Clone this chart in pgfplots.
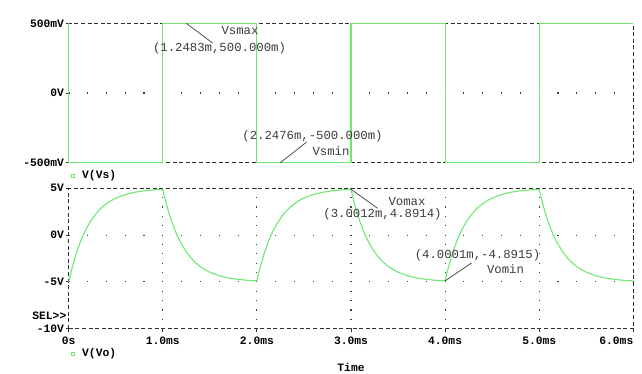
\documentclass[border=0pt]{standalone}
\usepackage{fontspec}
\setmainfont{Liberation Mono}
\usepackage{pgfplots}
\pgfplotsset{compat=1.18}
\definecolor{sig}{RGB}{112,232,112}
\definecolor{frm}{RGB}{45,45,45}
\definecolor{ann}{RGB}{60,60,60}
\newcommand{\tf}{\bfseries\fontsize{11.3}{12}\selectfont}
\newcommand{\af}{\fontsize{12.3}{13}\selectfont}
\begin{document}
\begin{tikzpicture}[x=1pt,y=1pt]
\path (0,0) rectangle (642,-373);
\pgfplotsset{
 psp/.style={
  scale only axis, width=564.6pt,
  xmin=0,xmax=6,
  axis line style={frm, line width=0.9pt, dash pattern=on 4pt off 2.6pt},
  tick style={frm, line width=0.9pt, solid},
  tick align=outside, major tick length=3pt,
  ticklabel style={font=\tf, text=black},
  yticklabel style={anchor=east, inner sep=0pt, xshift=-1.5pt},
  xticklabel style={anchor=north, inner sep=0pt, yshift=-5pt},
  ytick pos=left, xtick pos=bottom,
  clip=false,
 },
 hdots/.style={black!75, line width=1.1pt, dash pattern=on 1.1pt off 17.72pt, dash phase=0.55pt},
 vdots/.style={black!75, line width=1.1pt, dash pattern=on 1.1pt off 8.26pt, dash phase=0.55pt},
}
% ---------------- top panel ----------------
\begin{axis}[psp, at={(68.7pt,-23.3pt)}, anchor=north west, height=139.4pt,
  ymin=-0.5, ymax=0.5, ytick={-0.5,0,0.5}, yticklabels={-500mV,0V,500mV},
  xtick=\empty]
\addplot[hdots] coordinates {(0,0) (6,0)};
\addplot[sig, line width=1.1pt] coordinates {
 (0,0.5) (0,-0.5) (1,-0.5) (1,0.5) (2,0.5) (2,-0.5) (3,-0.5) (3,0.5)
 (4,0.5) (4,-0.5) (5,-0.5) (5,0.5) (6,0.5)};
\draw[ann, line width=0.7pt] (axis cs:1.2483,0.5) -- ++(26.5pt,-19.7pt);
\draw[ann, line width=0.7pt] (axis cs:2.2476,-0.5) -- ++(26.5pt,20.7pt);
\end{axis}
% ---------------- bottom panel ----------------
\begin{axis}[psp, at={(68.7pt,-188.3pt)}, anchor=north west, height=140.4pt,
  ymin=-10, ymax=5, ytick={-10,-5,0,5}, yticklabels={-10V,-5V,0V,5V},
  xtick={0,1,2,3,4,5,6},
  xticklabels={0s,1.0ms,2.0ms,3.0ms,4.0ms,5.0ms,\makebox[0pt][r]{6.0ms}}]
\addplot[hdots] coordinates {(0,0) (6,0)};
\addplot[hdots] coordinates {(0,-5) (6,-5)};
\addplot[vdots] coordinates {(1,5) (1,-10)};
\addplot[vdots] coordinates {(2,5) (2,-10)};
\addplot[vdots] coordinates {(3,5) (3,-10)};
\addplot[vdots] coordinates {(4,5) (4,-10)};
\addplot[vdots] coordinates {(5,5) (5,-10)};
\addplot[sig, line width=1.1pt] coordinates {
 (0,-5) (0.025,-3.94) (0.05,-2.99) (0.075,-2.13) (0.1,-1.38) (0.125,-0.70) (0.15,-0.09) (0.175,0.45)
 (0.2,0.94) (0.25,1.76) (0.3,2.41) (0.35,2.93) (0.4,3.35) (0.45,3.68) (0.5,3.95) (0.6,4.33)
 (0.7,4.57) (0.8,4.73) (0.9,4.83) (1.0,4.89)
 (1.025,3.84) (1.05,2.90) (1.075,2.05) (1.1,1.31) (1.125,0.63) (1.15,0.03) (1.175,-0.50)
 (1.2,-0.98) (1.25,-1.79) (1.3,-2.44) (1.35,-2.96) (1.4,-3.37) (1.45,-3.70) (1.5,-3.96) (1.6,-4.34)
 (1.7,-4.58) (1.8,-4.73) (1.9,-4.83) (2.0,-4.89)
 (2.025,-3.84) (2.05,-2.90) (2.075,-2.05) (2.1,-1.31) (2.125,-0.63) (2.15,-0.03) (2.175,0.50)
 (2.2,0.98) (2.25,1.79) (2.3,2.44) (2.35,2.96) (2.4,3.37) (2.45,3.70) (2.5,3.96) (2.6,4.34)
 (2.7,4.58) (2.8,4.73) (2.9,4.83) (3.0,4.89)
 (3.025,3.84) (3.05,2.90) (3.075,2.05) (3.1,1.31) (3.125,0.63) (3.15,0.03) (3.175,-0.50)
 (3.2,-0.98) (3.25,-1.79) (3.3,-2.44) (3.35,-2.96) (3.4,-3.37) (3.45,-3.70) (3.5,-3.96) (3.6,-4.34)
 (3.7,-4.58) (3.8,-4.73) (3.9,-4.83) (4.0,-4.89)
 (4.025,-3.84) (4.05,-2.90) (4.075,-2.05) (4.1,-1.31) (4.125,-0.63) (4.15,-0.03) (4.175,0.50)
 (4.2,0.98) (4.25,1.79) (4.3,2.44) (4.35,2.96) (4.4,3.37) (4.45,3.70) (4.5,3.96) (4.6,4.34)
 (4.7,4.58) (4.8,4.73) (4.9,4.83) (5.0,4.89)
 (5.025,3.84) (5.05,2.90) (5.075,2.05) (5.1,1.31) (5.125,0.63) (5.15,0.03) (5.175,-0.50)
 (5.2,-0.98) (5.25,-1.79) (5.3,-2.44) (5.35,-2.96) (5.4,-3.37) (5.45,-3.70) (5.5,-3.96) (5.6,-4.34)
 (5.7,-4.58) (5.8,-4.73) (5.9,-4.83) (6.0,-4.89)};
\draw[ann, line width=0.7pt] (axis cs:3.0012,4.8914) -- ++(26.5pt,-19pt);
\draw[ann, line width=0.7pt] (axis cs:4.0001,-4.8915) -- ++(26.5pt,18pt);
\end{axis}
% ---------------- annotations and labels ----------------
\begin{scope}[every node/.style={inner sep=0pt, text=ann, font=\af}]
\node at (240,-31) {Vsmax};
\node at (219.5,-48) {(1.2483m,500.000m)};
\node at (312.5,-136) {(2.2476m,-500.000m)};
\node at (331,-151) {Vsmin};
\node at (407,-202) {Vomax};
\node at (382.5,-214) {(3.0012m,4.8914)};
\node at (477.5,-255) {(4.0001m,-4.8915)};
\node at (505.5,-269) {Vomin};
\end{scope}
\begin{scope}[every node/.style={inner sep=0pt, font=\tf}]
\draw[sig, line width=1pt] (71,-174.3) rectangle (74.5,-177.8);
\node[anchor=west] at (82,-176) {V(Vs)};
\draw[sig, line width=1pt] (71,-352.3) rectangle (74.5,-355.8);
\node[anchor=west] at (82,-354) {V(Vo)};
\node[anchor=east] at (66.5,-316) {SEL>{}>};
\node at (351,-367) {Time};
\end{scope}
\end{tikzpicture}
\end{document}
